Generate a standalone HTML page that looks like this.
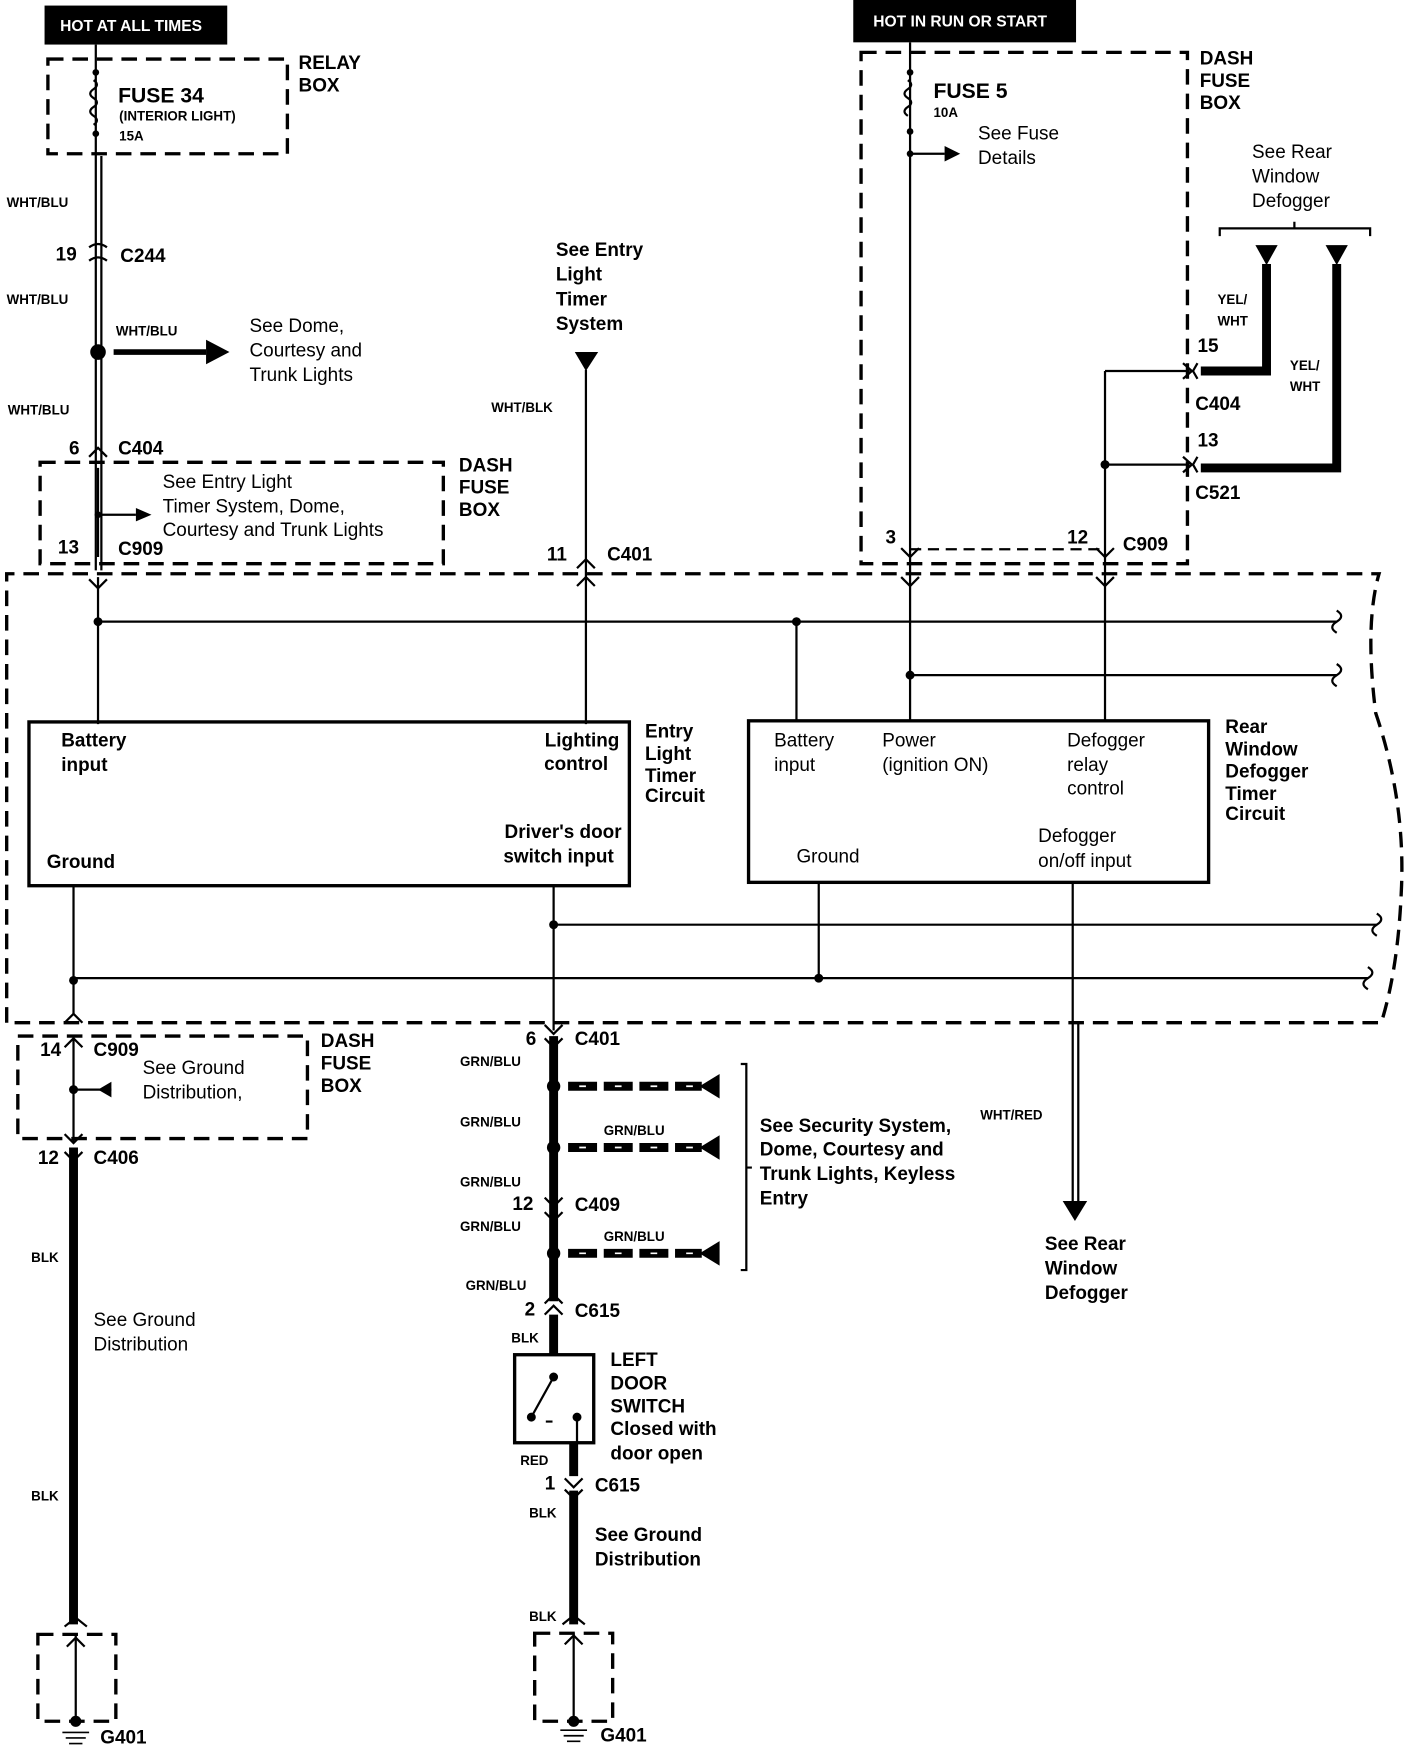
<!DOCTYPE html>
<html><head><meta charset="utf-8"><style>
html,body{margin:0;padding:0;background:#fff;}
svg{display:block;}
text{font-family:"Liberation Sans",sans-serif;fill:#000;}
.b{font-weight:bold;}
.s{font-size:12px;font-weight:bold;}
.m{font-size:17px;}
.mb{font-size:17px;font-weight:bold;}
</style></head><body>
<svg width="1408" height="1748" viewBox="0 0 1264 1569" preserveAspectRatio="none" xmlns="http://www.w3.org/2000/svg">
<g fill="none" stroke="#000">
<!-- dashed boxes -->
<g stroke-width="3" stroke-dasharray="14,8">
<rect x="43" y="53" width="215" height="85"/>
<rect x="36" y="415" width="362" height="91"/>
<rect x="773" y="47" width="293" height="459"/>
<path d="M6,918 V515 H1238 Q1225,560 1235,640 Q1262,720 1258,800 Q1255,870 1240,918 H6"/>
<rect x="16" y="930" width="260" height="92"/>
<rect x="34" y="1467" width="70" height="78"/>
<rect x="480" y="1466" width="70" height="79"/>
<path d="M817,493 H992" stroke-width="2" stroke-dasharray="10,6"/>
</g>
<!-- thin wires -->
<g stroke-width="2">
<path d="M86,40 V512 M91,140 V512"/>
<path d="M88,518 V650 M88,558 H1200 M526,332 V650 M715,558 V648 M817,38 V648 M817,606 H1200 M992,333 V648 M992,333 H1068 M992,417 H1068"/>
<path d="M66,795 V910 M497,795 V925 M497,830 H1236 M735,792 V878 M66,878 H1228"/>
<path d="M963,792 V1080 M968,918 V1080"/>
<path d="M66,930 V1025 M66,978 H100"/>
<path d="M68,1467 V1545 M515,1466 V1545"/>
<path d="M817,138 H848"/>
<path d="M1200,548 q8,5 0,10 q-8,5 0,10 M1200,596 q8,5 0,10 q-8,5 0,10 M1236,820 q8,5 0,10 q-8,5 0,10 M1228,868 q8,5 0,10 q-8,5 0,10"/>
<path d="M1095,212 V205 H1230 V212 M1162,205 l0,-6"/>
<path d="M665,955 h5 V1140 h-5 M670,1048 l5,0"/>
</g>
<!-- module boxes -->
<rect x="26" y="648" width="539" height="147" stroke-width="3"/>
<rect x="672" y="647" width="413" height="145" stroke-width="3"/>
<!-- thick wires -->
<g stroke-width="8">
<path d="M1137,237 V333 H1078 M1200,237 V420 H1078"/>
<path d="M66,1030 V1458 M497,930 V1168 M497,1180 V1216 M515,1295 V1325 M515,1338 V1458"/>
<path d="M510,975 H630 M510,1030 H630 M510,1125 H630" stroke-dasharray="26,6"/>
</g>
<path d="M520,975 H628 M520,1030 H628 M520,1125 H628" stroke="#fff" stroke-width="1.5" stroke-dasharray="6,26"/>
<rect x="462" y="1216" width="71" height="79" stroke-width="3"/>
<path d="M497,1236 L477,1272 M518,1272 V1295 M490,1276 h6" stroke-width="2"/>
<path d="M102,316 H185" stroke-width="5"/>
<path d="M88,462 H122 M88,420 V500" stroke-width="2"/>
<!-- connectors -->
<g stroke-width="2">
<path d="M80,222 q8,-6 16,0 M80,234 q8,-6 16,0"/>
<path d="M80,410 l8,-8 8,8 M80,520 l8,8 8,-8"/>
<path d="M518,510 l8,-8 8,8 M518,526 l8,-8 8,8"/>
<path d="M809,518 l8,8 8,-8 M984,518 l8,8 8,-8 M809,492 l8,8 8,-8 M984,492 l8,8 8,-8"/>
<path d="M58,918 l8,-8 8,8 M58,940 l8,-8 8,8 M58,1018 l8,8 8,-8 M58,1034 l8,8 8,-8"/>
<path d="M489,920 l8,8 8,-8 M489,932 l8,8 8,-8 M489,1075 l8,8 8,-8 M489,1088 l8,8 8,-8 M489,1170 l8,-8 8,8 M489,1180 l8,-8 8,8"/>
<path d="M507,1327 l8,8 8,-8 M507,1337 l8,8 8,-8 M58,1460 l10,-8 10,8 M505,1458 l10,-8 10,8 M60,1478 l8,-8 8,8 M507,1476 l8,-8 8,8"/>
<path d="M1062,326 l8,7 -8,7 M1062,410 l8,7 -8,7 M1075,326 l-4,7 4,7 M1075,410 l-4,7 4,7"/>
</g>
<path d="M56,1555 h24 M59,1560 h18 M62,1565 h12 M503,1553 h24 M506,1558 h18 M509,1563 h12" stroke-width="1.5"/>
<path d="M84,72 q6,4 0,8 q-6,4 0,8 q6,4 0,8 q-6,4 0,8 q6,4 0,8 M815,72 q6,4 0,8 q-6,4 0,8 q6,4 0,8 q-6,4 0,8" stroke-width="2"/>
</g>
<g fill="#000">
<rect x="40" y="5" width="164" height="35"/>
<rect x="766" y="0" width="200" height="38"/>
<polygon points="185,305 206,316 185,327"/>
<polygon points="122,456 136,462 122,468"/>
<polygon points="848,131 862,138 848,145"/>
<polygon points="516,316 537,316 526,333"/>
<polygon points="1127,220 1147,220 1137,238"/>
<polygon points="1190,220 1210,220 1200,238"/>
<polygon points="646,964 646,986 628,975"/>
<polygon points="646,1019 646,1041 628,1030"/>
<polygon points="646,1114 646,1136 628,1125"/>
<polygon points="100,971 100,985 88,978"/>
<polygon points="954,1078 976,1078 965,1096"/>
<circle cx="86" cy="65" r="3"/><circle cx="86" cy="120" r="3"/>
<circle cx="817" cy="65" r="3"/><circle cx="817" cy="118" r="3"/><circle cx="817" cy="138" r="3"/>
<circle cx="88" cy="316" r="7"/><circle cx="88" cy="462" r="3"/>
<circle cx="88" cy="558" r="4"/><circle cx="715" cy="558" r="4"/><circle cx="817" cy="606" r="4"/><circle cx="992" cy="417" r="4"/>
<circle cx="497" cy="830" r="4"/><circle cx="66" cy="880" r="4"/><circle cx="735" cy="878" r="4"/><circle cx="66" cy="978" r="4"/>
<circle cx="497" cy="975" r="6"/><circle cx="497" cy="1030" r="6"/><circle cx="497" cy="1125" r="6"/>
<circle cx="497" cy="1236" r="4"/><circle cx="477" cy="1272" r="4"/><circle cx="518" cy="1272" r="4"/>
<circle cx="68" cy="1545" r="5"/><circle cx="515" cy="1545" r="5"/>
</g>
<text x="54" y="28" class="s" style="fill:#fff;font-size:14px">HOT AT ALL TIMES</text>
<text x="784" y="24" class="s" style="fill:#fff;font-size:14px">HOT IN RUN OR START</text>
<text class="mb"><tspan x="268" y="62">RELAY</tspan><tspan x="268" y="82">BOX</tspan></text>
<text x="106" y="92" class="mb" style="font-size:19px">FUSE 34</text>
<text x="107" y="108" class="s">(INTERIOR LIGHT)</text>
<text x="107" y="126" class="s">15A</text>
<text class="s"><tspan x="6" y="186">WHT/BLU</tspan><tspan x="6" y="273">WHT/BLU</tspan><tspan x="7" y="372">WHT/BLU</tspan><tspan x="104" y="301">WHT/BLU</tspan><tspan x="441" y="370">WHT/BLK</tspan></text>
<text class="mb"><tspan x="50" y="234">19</tspan><tspan x="108" y="235">C244</tspan><tspan x="62" y="408">6</tspan><tspan x="106" y="408">C404</tspan><tspan x="52" y="497">13</tspan><tspan x="106" y="498">C909</tspan><tspan x="491" y="503">11</tspan><tspan x="545" y="503">C401</tspan></text>
<text class="m"><tspan x="224" y="298">See Dome,</tspan><tspan x="224" y="320">Courtesy and</tspan><tspan x="224" y="342">Trunk Lights</tspan></text>
<text class="m"><tspan x="146" y="438">See Entry Light</tspan><tspan x="146" y="460">Timer System, Dome,</tspan><tspan x="146" y="481">Courtesy and Trunk Lights</tspan></text>
<text class="mb"><tspan x="412" y="423">DASH</tspan><tspan x="412" y="443">FUSE</tspan><tspan x="412" y="463">BOX</tspan></text>
<text class="mb"><tspan x="499" y="230">See Entry</tspan><tspan x="499" y="252">Light</tspan><tspan x="499" y="274">Timer</tspan><tspan x="499" y="296">System</tspan></text>
<text class="mb"><tspan x="1077" y="58">DASH</tspan><tspan x="1077" y="78">FUSE</tspan><tspan x="1077" y="98">BOX</tspan></text>
<text x="838" y="88" class="mb" style="font-size:19px">FUSE 5</text>
<text x="838" y="105" class="s">10A</text>
<text class="m"><tspan x="878" y="125">See Fuse</tspan><tspan x="878" y="147">Details</tspan></text>
<text class="m"><tspan x="1124" y="142">See Rear</tspan><tspan x="1124" y="164">Window</tspan><tspan x="1124" y="186">Defogger</tspan></text>
<text class="s"><tspan x="1093" y="273">YEL/</tspan><tspan x="1093" y="292">WHT</tspan><tspan x="1158" y="332">YEL/</tspan><tspan x="1158" y="351">WHT</tspan></text>
<text class="mb"><tspan x="1075" y="316">15</tspan><tspan x="1073" y="368">C404</tspan><tspan x="1075" y="401">13</tspan><tspan x="1073" y="448">C521</tspan><tspan x="795" y="488">3</tspan><tspan x="958" y="488">12</tspan><tspan x="1008" y="494">C909</tspan></text>
<text class="mb"><tspan x="55" y="670">Battery</tspan><tspan x="55" y="692">input</tspan><tspan x="42" y="779">Ground</tspan></text>
<text class="mb" text-anchor="end"><tspan x="556" y="670">Lighting</tspan><tspan x="546" y="691">control</tspan><tspan x="558" y="752">Driver's door</tspan><tspan x="551" y="774">switch input</tspan></text>
<text class="mb"><tspan x="579" y="662">Entry</tspan><tspan x="579" y="682">Light</tspan><tspan x="579" y="702">Timer</tspan><tspan x="579" y="720">Circuit</tspan></text>
<text class="m"><tspan x="695" y="670">Battery</tspan><tspan x="695" y="692">input</tspan><tspan x="792" y="670">Power</tspan><tspan x="792" y="692">(ignition ON)</tspan><tspan x="958" y="670">Defogger</tspan><tspan x="958" y="692">relay</tspan><tspan x="958" y="713">control</tspan><tspan x="715" y="774">Ground</tspan><tspan x="932" y="756">Defogger</tspan><tspan x="932" y="778">on/off input</tspan></text>
<text class="mb"><tspan x="1100" y="658">Rear</tspan><tspan x="1100" y="678">Window</tspan><tspan x="1100" y="698">Defogger</tspan><tspan x="1100" y="718">Timer</tspan><tspan x="1100" y="736">Circuit</tspan></text>
<text class="mb"><tspan x="36" y="948">14</tspan><tspan x="84" y="948">C909</tspan><tspan x="34" y="1045">12</tspan><tspan x="84" y="1045">C406</tspan><tspan x="90" y="1565">G401</tspan></text>
<text class="m"><tspan x="128" y="964">See Ground</tspan><tspan x="128" y="986">Distribution,</tspan><tspan x="84" y="1190">See Ground</tspan><tspan x="84" y="1212">Distribution</tspan></text>
<text class="mb"><tspan x="288" y="940">DASH</tspan><tspan x="288" y="960">FUSE</tspan><tspan x="288" y="980">BOX</tspan></text>
<text class="s"><tspan x="28" y="1133">BLK</tspan><tspan x="28" y="1347">BLK</tspan></text>
<text class="s"><tspan x="413" y="957">GRN/BLU</tspan><tspan x="413" y="1011">GRN/BLU</tspan><tspan x="413" y="1065">GRN/BLU</tspan><tspan x="413" y="1105">GRN/BLU</tspan><tspan x="418" y="1158">GRN/BLU</tspan><tspan x="542" y="1019">GRN/BLU</tspan><tspan x="542" y="1114">GRN/BLU</tspan><tspan x="459" y="1205">BLK</tspan><tspan x="467" y="1315">RED</tspan><tspan x="475" y="1362">BLK</tspan><tspan x="475" y="1455">BLK</tspan><tspan x="880" y="1005">WHT/RED</tspan></text>
<text class="mb"><tspan x="472" y="938">6</tspan><tspan x="516" y="938">C401</tspan><tspan x="460" y="1086">12</tspan><tspan x="516" y="1087">C409</tspan><tspan x="471" y="1181">2</tspan><tspan x="516" y="1182">C615</tspan><tspan x="489" y="1337">1</tspan><tspan x="534" y="1339">C615</tspan><tspan x="539" y="1563">G401</tspan></text>
<text class="mb"><tspan x="682" y="1016">See Security System,</tspan><tspan x="682" y="1037">Dome, Courtesy and</tspan><tspan x="682" y="1059">Trunk Lights, Keyless</tspan><tspan x="682" y="1081">Entry</tspan></text>
<text class="mb"><tspan x="548" y="1226">LEFT</tspan><tspan x="548" y="1247">DOOR</tspan><tspan x="548" y="1268">SWITCH</tspan><tspan x="548" y="1288">Closed with</tspan><tspan x="548" y="1310">door open</tspan></text>
<text class="mb"><tspan x="534" y="1383">See Ground</tspan><tspan x="534" y="1405">Distribution</tspan></text>
<text class="mb"><tspan x="938" y="1122">See Rear</tspan><tspan x="938" y="1144">Window</tspan><tspan x="938" y="1166">Defogger</tspan></text>
</svg>
</body></html>
